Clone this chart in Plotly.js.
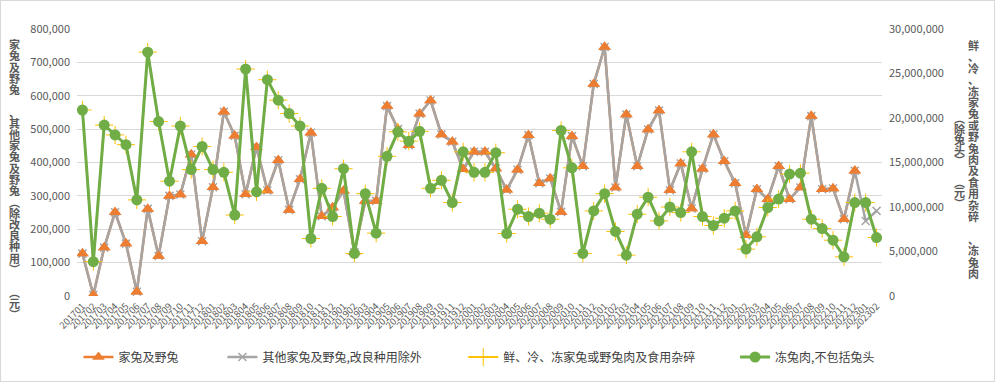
<!DOCTYPE html>
<html>
<head>
<meta charset="utf-8">
<script src="https://cdn.plot.ly/plotly-3.0.1.min.js"></script>
<style>
html,body{margin:0;padding:0;background:#fff;}
#wrap{position:relative;width:995px;height:382px;}
#chart{position:absolute;left:0;top:0;width:995px;height:382px;}
#frame{position:absolute;left:0;top:0;width:995px;height:382px;box-sizing:border-box;border:1px solid #d9d9d9;pointer-events:none;}
</style>
</head>
<body>
<div id="wrap"><div id="chart"></div><div id="frame"></div></div>
<script>
// ---- data ----
const months = ['201701','201702','201703','201704','201705','201706','201707','201708','201709','201710','201711','201712',
'201801','201802','201803','201804','201805','201806','201807','201808','201809','201810','201811','201812',
'201901','201902','201903','201904','201905','201906','201907','201908','201909','201910','201911','201912',
'202001','202002','202003','202004','202005','202006','202007','202008','202009','202010','202011','202012',
'202101','202102','202103','202104','202105','202106','202107','202108','202109','202110','202111','202112',
'202201','202202','202203','202204','202205','202206','202207','202208','202209','202210','202211','202212',
'202301','202302'];

const seriesNames = ['家兔及野兔','其他家兔及野兔,改良种用除外','鲜、冷、冻家兔或野兔肉及食用杂碎','冻兔肉,不包括兔头'];

const rabbitsLive = [127000,3000,145000,251000,157000,13000,261000,120000,300000,304000,424000,164000,
326000,552000,480000,305000,446000,316000,407000,258000,350000,489000,239000,265000,
315000,132000,285000,285000,569000,500000,452000,546000,586000,484000,462000,380000,
432000,432000,382000,318000,378000,482000,338000,352000,252000,479000,389000,635000,
746000,325000,544000,389000,499000,556000,317000,397000,262000,381000,484000,404000,
338000,182000,320000,290000,389000,290000,325000,539000,320000,322000,230000,375000,
null,null];

const rabbitsOther = [127000,3000,145000,251000,157000,13000,261000,120000,300000,304000,424000,164000,
326000,552000,480000,305000,446000,316000,407000,258000,350000,489000,239000,265000,
315000,132000,285000,285000,569000,500000,452000,546000,586000,484000,462000,380000,
432000,432000,382000,318000,378000,482000,338000,352000,252000,479000,389000,635000,
746000,325000,544000,389000,499000,556000,317000,397000,262000,381000,484000,404000,
338000,182000,320000,290000,389000,290000,325000,539000,320000,322000,230000,375000,
225000,255000];

const rabbitMeat = [20900000,3860000,19200000,18100000,17000000,10800000,27400000,19600000,12900000,19100000,14200000,16800000,
14200000,13900000,9100000,25500000,11700000,24300000,22000000,20500000,19100000,6460000,12100000,8930000,
14300000,4780000,11500000,7060000,15700000,18450000,17400000,18500000,12100000,13000000,10500000,16200000,
13900000,13900000,16100000,7020000,9750000,8930000,9300000,8630000,18600000,14400000,4780000,9560000,
11500000,7250000,4590000,9190000,11100000,8440000,10000000,9370000,16200000,8930000,7920000,8740000,
9560000,5270000,6650000,9940000,10900000,13700000,13800000,8630000,7580000,6270000,4400000,10500000,
10500000,6570000];

const frozenMeat = [20900000,3860000,19200000,18100000,17000000,10800000,27400000,19600000,12900000,19100000,14200000,16800000,
14200000,13900000,9100000,25500000,11700000,24300000,22000000,20500000,19100000,6460000,12100000,8930000,
14300000,4780000,11500000,7060000,15700000,18450000,17400000,18500000,12100000,13000000,10500000,16200000,
13900000,13900000,16100000,7020000,9750000,8930000,9300000,8630000,18600000,14400000,4780000,9560000,
11500000,7250000,4590000,9190000,11100000,8440000,10000000,9370000,16200000,8930000,7920000,8740000,
9560000,5270000,6650000,9940000,10900000,13700000,13800000,8630000,7580000,6270000,4400000,10500000,
10500000,6570000];

const leftTitle = '家兔及野兔 、其他家兔及野兔︵除改良种用︶ ︵元︶';
const rightTitleCol1 = '鲜、冷、冻家兔或野兔肉及食用杂碎 、冻兔肉';
const rightTitleCol2 = '︵除兔头︶ ︵元︶';

// ---- layout geometry ----
const FW = 995, FH = 382;
const L = 76.5, R = 882, T = 29, B = 297;
const W = R - L, H = B - T;
const px = x => (x - L) / W;
const py = y => 1 - (y - T) / H;

const FONT = '"Noto Sans CJK SC", "Noto Sans", sans-serif';
const ORANGE = '#ED7D31', GRAY = '#A5A5A5', YELLOW = '#FFC000', GREEN = '#70AD47';

const traces = [
  {x: months, y: rabbitsLive, name: seriesNames[0], type: 'scatter', mode: 'lines+markers',
   line: {color: ORANGE, width: 2.5}, marker: {symbol: 'triangle-up', size: 11, color: ORANGE},
   legend: 'legend', connectgaps: false},
  {x: months, y: rabbitsOther, name: seriesNames[1], type: 'scatter', mode: 'lines+markers',
   line: {color: GRAY, width: 2.5}, marker: {symbol: 'x-thin-open', size: 8, color: GRAY, line: {color: GRAY, width: 1.5}},
   legend: 'legend2'},
  {x: months, y: rabbitsLive, name: seriesNames[0], type: 'scatter', mode: 'markers', showlegend: false,
   marker: {symbol: 'triangle-up', size: 11, color: ORANGE}, hoverinfo: 'skip'},
  {x: months, y: rabbitMeat, name: seriesNames[2], type: 'scatter', mode: 'lines+markers', yaxis: 'y2',
   line: {color: YELLOW, width: 2}, marker: {symbol: 'cross-thin-open', size: 13, color: YELLOW, line: {color: YELLOW, width: 1}},
   legend: 'legend3'},
  {x: months, y: frozenMeat, name: seriesNames[3], type: 'scatter', mode: 'lines+markers', yaxis: 'y2',
   line: {color: GREEN, width: 3}, marker: {symbol: 'circle', size: 11, color: GREEN},
   legend: 'legend4'}
];

// vertical (stacked) title: one text, one character per line
function vertTitle(text, xPix, yCenter, step, glyphSize) {
  const lines = Array.from(text).map(c =>
    c === ' ' ? '<span style="font-size:' + glyphSize + 'px">&nbsp;</span>'
              : '<span style="font-size:' + glyphSize + 'px"><b>' + c + '</b></span>');
  return {
    text: lines.join('<br>'),
    xref: 'paper', yref: 'paper', x: px(xPix), y: py(yCenter),
    xanchor: 'center', yanchor: 'middle', showarrow: false, align: 'center',
    font: {family: FONT, size: step / 1.3, color: '#595959'}
  };
}

const annotations = [
  vertTitle(leftTitle, 14, 180, 11.25, 11),
  vertTitle(rightTitleCol1, 974, 159, 11.4, 11),
  vertTitle(rightTitleCol2, 960, 161, 10.6, 11)
];

function leg(xPix) {
  return {orientation: 'h', x: px(xPix), xanchor: 'left', y: py(357), yanchor: 'middle',
    bgcolor: 'rgba(0,0,0,0)', borderwidth: 0, itemwidth: 30,
    font: {family: FONT, size: 12, color: '#404040'}};
}

const layout = {
  width: FW, height: FH,
  margin: {l: L, r: FW - R, t: T, b: FH - B, pad: 0},
  paper_bgcolor: '#fff', plot_bgcolor: '#fff',
  font: {family: FONT, color: '#595959'},
  showlegend: true,
  xaxis: {type: 'category', range: [-0.5, months.length - 0.5], showgrid: false, zeroline: false, showline: false,
    tickmode: 'array', tickvals: months, ticktext: months,
    tickangle: -45, tickfont: {family: FONT, size: 9.5, color: '#595959'}, ticks: '', ticklabelstandoff: 2},
  yaxis: {range: [0, 800000], dtick: 100000, tickformat: ',', gridcolor: '#d9d9d9', gridwidth: 1,
    zeroline: false, showline: false, ticks: '', tickfont: {family: FONT, size: 11, color: '#595959'}, ticklabelstandoff: 6},
  yaxis2: {overlaying: 'y', side: 'right', range: [0, 30000000], dtick: 5000000, tickformat: ',', showgrid: false,
    zeroline: false, showline: false, ticks: '', tickfont: {family: FONT, size: 11, color: '#595959'}, ticklabelstandoff: 6},
  legend: leg(78), legend2: leg(222), legend3: leg(463), legend4: leg(735),
  annotations: annotations
};

Plotly.newPlot('chart', traces, layout, {displayModeBar: false, staticPlot: true});
</script>
</body>
</html>
